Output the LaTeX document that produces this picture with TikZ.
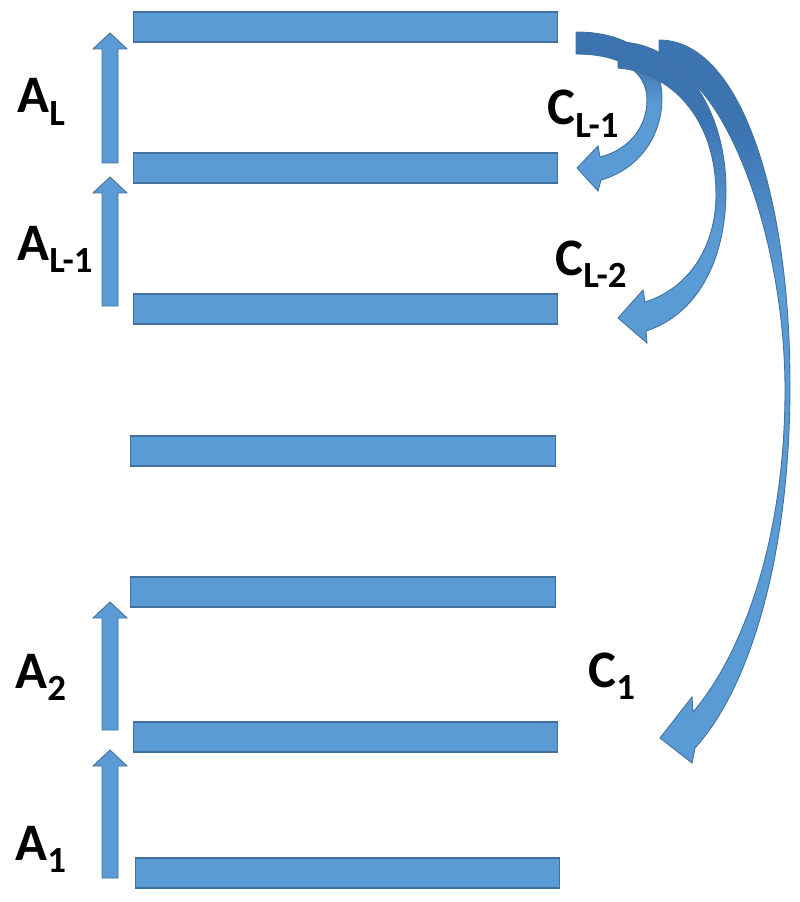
\documentclass[tikz,border=0pt]{standalone}
\usepackage{fontspec}
\setmainfont{Carlito}
\usepackage{xcolor}

\definecolor{barblue}{HTML}{5B9BD5}
\definecolor{baredge}{HTML}{41719C}
\definecolor{backblue}{HTML}{3C74B2}

\newcommand{\lsub}[1]{\raisebox{-7pt}{\fontsize{21}{24}\selectfont #1}}

\tikzset{
  layer/.style={draw=baredge, fill=barblue, line width=0.6pt,
    minimum width=8.5cm, minimum height=0.6cm, inner sep=0pt},
  blockarrow/.style={draw=baredge, fill=barblue, line width=0.5pt},
  lbl/.style={anchor=base west, inner sep=0pt,
    font=\fontsize{30}{36}\selectfont\bfseries},
}

% the three skip arrows
\def\arcA{(576,32) .. controls (632,32) and (662,60) .. (662,98)
  .. controls (662,138) and (637,170) .. (601,180) -- (598,191) -- (577,168)
  -- (598,146) -- (600,157) .. controls (628,150) and (647,128) .. (647,100)
  .. controls (647,72) and (622,54) .. (576,54) -- cycle}
\def\arcB{(618,42) .. controls (682,42) and (726,110) .. (726,190)
  .. controls (726,262) and (696,315) .. (646,331) -- (647,343) -- (618,318)
  -- (643,290) -- (645,302) .. controls (690,288) and (716,245) .. (716,195)
  .. controls (716,115) and (668,72) .. (618,68) -- cycle}
\def\arcC{(659,40) .. controls (742,40) and (790,200) .. (790,385)
  .. controls (790,560) and (748,690) .. (695,748) -- (692,763) -- (660,738)
  -- (692,697) -- (693,712) .. controls (742,655) and (785,540) .. (785,390)
  .. controls (785,230) and (720,70) .. (659,64) -- cycle}

\begin{document}
\begin{tikzpicture}[x=0.02cm, y=-0.02cm]
    \useasboundingbox (0,0) rectangle (800,902);

    % layers
    \node[layer] (lay7) at (345.5,27) {};
    \node[layer] (lay6) at (345.5,168) {};
    \node[layer] (lay5) at (345.5,309) {};
    \node[layer] (lay4) at (343,451) {};
    \node[layer] (lay3) at (343,592) {};
    \node[layer] (lay2) at (345.5,737) {};
    \node[layer] (lay1) at (347.5,873) {};

    % up arrows
    \foreach \t/\b in {33/163, 177/306, 602/730, 750/878}
        \draw[blockarrow] (102,\b) -- (102,\t+16) -- (93,\t+16) -- (110,\t)
            -- (127,\t+16) -- (118,\t+16) -- (118,\b) -- cycle;

    % curved arrows, dark at the back
    \foreach \p/\ya/\yb in {\arcA/62/105, \arcB/120/230, \arcC/135/270}{
        \fill[barblue] \p;
        \begin{scope}
            \clip \p;
            \fill[backblue] (500,0) rectangle (800,\ya);
            \shade[top color=backblue, bottom color=barblue]
                (500,\ya) rectangle (800,\yb);
        \end{scope}
        \draw[baredge, line width=0.5pt] \p;
    }

    % labels
    \node[lbl] (aL) at (17,113) {A\lsub{L}};
    \node[lbl] (aL1) at (17,260) {A\lsub{L-1}};
    \node[lbl] (a2) at (15,688) {A\lsub{2}};
    \node[lbl] (a1) at (15,860) {A\lsub{1}};
    \node[lbl] (cL1) at (547,125) {C\lsub{L-1}};
    \node[lbl] (cL2) at (555,275) {C\lsub{L-2}};
    \node[lbl] (c1) at (588,687) {C\lsub{1}};
\end{tikzpicture}
\end{document}
